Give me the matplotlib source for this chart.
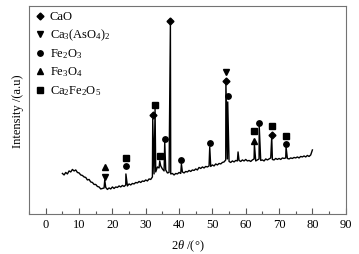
import numpy as np
import matplotlib
matplotlib.use("Agg")
import matplotlib.pyplot as plt

plt.rcParams['font.family'] = ['Liberation Serif', 'DejaVu Serif']
plt.rcParams['mathtext.fontset'] = 'custom'
plt.rcParams['mathtext.rm'] = 'Liberation Serif'
plt.rcParams['mathtext.it'] = 'Liberation Serif:italic'

# background of the pattern, every 0.5 deg from 5 to 80
base_start, base_step = 5.0, 0.5
base_int = [40.5, 39, 41.5, 40, 43, 42, 44.5, 43, 44, 41.5,
            41, 39, 38.5, 37, 36.5, 34, 34.5, 32, 31.5, 29.5,
            29.5, 27.5, 27, 25, 25.5, 26, 26.5, 24.5, 26, 25,
            27, 25.5, 27, 26.5, 28, 27, 28.5, 27.5, 29, 28,
            30, 29, 30.5, 30, 31.5, 31, 32.5, 31.5, 33, 32.5,
            34, 33, 35, 34.5, 37, 40, 42, 47, 46, 48,
            45, 43, 44, 41, 41.5, 40, 40.5, 39, 40.5, 40,
            41.5, 40.5, 42, 41, 42.5, 42, 43.5, 42.5, 44, 43.5,
            45, 44, 46.5, 45.5, 47, 46, 47.5, 47, 48, 47.5,
            49, 48, 50, 49, 50.5, 50, 51.5, 52, 54, 55,
            52.5, 51.5, 53, 52, 53.5, 53, 53.5, 52.5, 54, 53,
            54.5, 53, 53.5, 52.5, 54, 55, 53, 54, 55, 53.5,
            54, 53, 55, 54, 55, 56, 54.5, 54, 55.5, 54.5,
            55.5, 54.5, 56, 55.5, 56, 55.5, 55, 56, 55.5, 56.5,
            56, 57, 56, 57.5, 57, 58, 57, 58.5, 57.5, 59,
            64]

# peak positions (2theta) and peak tops
peak_pos = [17.7, 24.05, 32.1, 32.8, 34.2, 35.7, 37.4, 40.7, 49.2,
            54.05, 54.6, 57.7, 62.6, 64.05, 67.8, 72.1]
peak_top = [34, 40, 95, 105, 53, 72, 191, 50, 67,
            132, 112, 62, 70, 88, 77, 67]

# phase markers: positions and heights
cao_x = [32.1, 37.4, 54.05, 67.8]
cao_y = [99, 193, 133, 79]
caas_x = [17.7, 54.05]
caas_y = [37, 142]
fe2o3_x = [24.05, 35.7, 40.7, 49.2, 54.6, 64.05, 72.1]
fe2o3_y = [48, 75, 54, 71, 118, 91, 70]
fe3o4_x = [17.7, 62.6]
fe3o4_y = [47, 73]
cafe_x = [24.05, 32.8, 34.2, 62.6, 67.8, 72.1]
cafe_y = [56, 109, 58, 83, 88, 78]

labels = ['CaO', 'Ca$_3$(AsO$_4$)$_2$', 'Fe$_2$O$_3$', 'Fe$_3$O$_4$', 'Ca$_2$Fe$_2$O$_5$']

base_x = base_start + base_step * np.arange(len(base_int))
x = np.concatenate([base_x, peak_pos])
y = np.concatenate([base_int, peak_top])
order = np.argsort(x, kind='stable')
x, y = x[order], y[order]

fig = plt.figure(figsize=(3.59, 2.55), dpi=100)
ax = fig.add_axes([0.081, 0.157, 0.882, 0.816])

ax.plot(x, y, color='black', lw=1.0)

phases = [(cao_x, cao_y, 'D', 3.5), (caas_x, caas_y, 'v', 4.5),
          (fe2o3_x, fe2o3_y, 'o', 3.9), (fe3o4_x, fe3o4_y, '^', 4.5),
          (cafe_x, cafe_y, 's', 3.8)]
for px, py, m, ms in phases:
    ax.plot(px, py, ls='none', marker=m, ms=ms, color='black')

# legend drawn by hand
for i, (lab, (px, py, m, ms)) in enumerate(zip(labels, phases)):
    yy = 0.952 - i * 0.089
    ax.plot([0.035], [yy], transform=ax.transAxes, marker=m, ms=ms,
            color='black', ls='none')
    ax.text(0.066, yy, lab, transform=ax.transAxes, fontsize=9,
            va='center', ha='left')

ax.set_xlim(-5, 90)
ax.set_ylim(0, 208)
ax.set_xticks(np.arange(0, 91, 10))
ax.set_xticks(np.arange(-5, 91, 5), minor=True)
ax.tick_params(axis='x', which='major', direction='in', length=4.5, width=0.8,
               labelsize=9, pad=3, color='0.35')
ax.tick_params(axis='x', which='minor', direction='in', length=2.5, width=0.8,
               color='0.35')
ax.set_yticks([])
for s in ax.spines.values():
    s.set_color('0.45')
    s.set_linewidth(0.8)

ax.set_xlabel('2$\\mathit{\\theta}$ /(°)', fontsize=9, labelpad=5)
ax.set_ylabel('Intensity /(a.u)', fontsize=9, labelpad=4)

fig.savefig('out.png', dpi=100)
